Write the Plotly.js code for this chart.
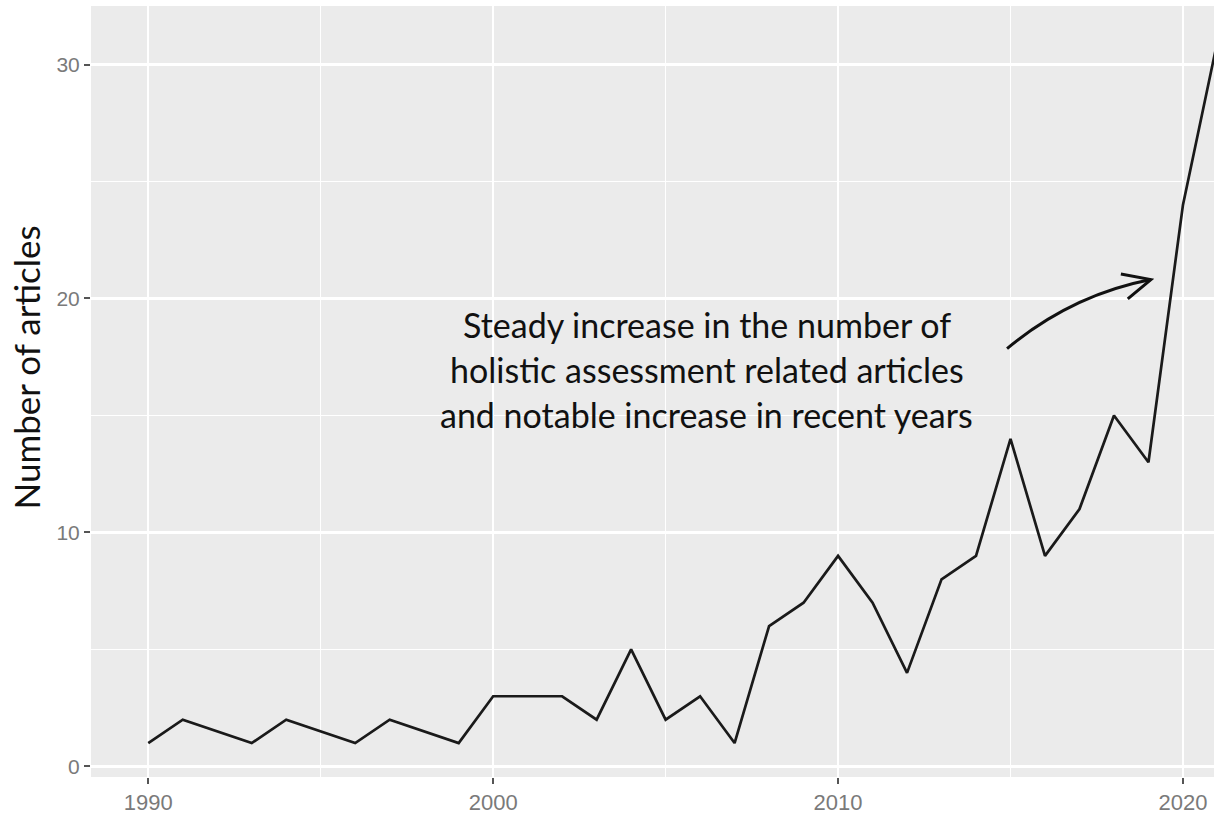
<!DOCTYPE html>
<html>
<head>
<meta charset="utf-8">
<script src="https://cdn.plot.ly/plotly-3.0.1.min.js"></script>
<style>html,body{margin:0;padding:0;background:#fff;}#chart{width:1214px;height:816px;}</style>
</head>
<body>
<div id="chart"></div>
<script>
// Data (years with no point are absent)
const years = [1990, 1991, 1993, 1994, 1996, 1997, 1999, 2000, 2001, 2002, 2003, 2004, 2005, 2006, 2007, 2008, 2009, 2010, 2011, 2012, 2013, 2014, 2015, 2016, 2017, 2018, 2019, 2020, 2021];
const articles = [1, 2, 1, 2, 1, 2, 1, 3, 3, 3, 2, 5, 2, 3, 1, 6, 7, 9, 7, 4, 8, 9, 14, 9, 11, 15, 13, 24, 31];
const xTicks = [1990, 2000, 2010, 2020];
const yTicks = [0, 10, 20, 30];
const yTitle = "Number of articles";
const noteLines = [
  "Steady increase in the number of",
  "holistic assessment related articles",
  "and notable increase in recent years"
];
const noteX = 2006.2;
const noteY = [18.9, 16.97, 15.04];
// curved arrow: start, control, tip, arrowhead arms (data units)
const arrowStart = [2014.9, 17.86];
const arrowCtrl = [2016.77, 20.15];
const arrowTip = [2019.07, 20.81];
const arrowArmA = [2018.2, 21.05];
const arrowArmB = [2018.4, 19.98];

const trace = {
  x: years, y: articles, type: 'scatter', mode: 'lines',
  line: {color: '#1a1a1a', width: 2.7},
  hoverinfo: 'x+y'
};

const p = a => a[0] + ',' + a[1];
const shapes = [
  {type: 'path', xref: 'x', yref: 'y',
   path: 'M' + p(arrowStart) + ' Q' + p(arrowCtrl) + ' ' + p(arrowTip),
   line: {color: '#111', width: 3}},
  {type: 'path', xref: 'x', yref: 'y',
   path: 'M' + p(arrowArmA) + ' L' + p(arrowTip) + ' L' + p(arrowArmB),
   line: {color: '#111', width: 3}}
];

const annotations = noteLines.map((t, i) => ({
  x: noteX, y: noteY[i], xref: 'x', yref: 'y', text: t, showarrow: false,
  xanchor: 'center', yanchor: 'middle',
  font: {family: 'Lato, sans-serif', size: 34, color: '#111'}
}));
// y-axis title placed as a rotated annotation
annotations.push({
  x: -0.058, y: 0.531, xref: 'paper', yref: 'paper', text: yTitle, showarrow: false,
  textangle: -90, xanchor: 'center', yanchor: 'middle',
  font: {family: 'Lato, sans-serif', size: 35, color: '#111'}
});

const layout = {
  width: 1214, height: 816,
  margin: {l: 91, r: 0, t: 6, b: 39},
  paper_bgcolor: '#ffffff', plot_bgcolor: '#ebebeb',
  showlegend: false,
  xaxis: {
    range: [1988.34, 2020.9], tickvals: xTicks, ticktext: xTicks.map(String),
    showgrid: true, gridcolor: '#ffffff', gridwidth: 2.4, zeroline: false,
    minor: {dtick: 5, tick0: 1990, showgrid: true, gridcolor: '#ffffff', gridwidth: 1.2, ticks: ''},
    ticks: 'outside', ticklen: 6, tickwidth: 2, tickcolor: '#555',
    tickfont: {family: 'Liberation Sans, Arial, sans-serif', size: 22, color: '#7a7a7a'},
    showline: false, fixedrange: true
  },
  yaxis: {
    range: [-0.45, 32.5], tickvals: yTicks, ticktext: yTicks.map(String),
    showgrid: true, gridcolor: '#ffffff', gridwidth: 2.4, zeroline: false,
    minor: {dtick: 5, tick0: 0, showgrid: true, gridcolor: '#ffffff', gridwidth: 1.2, ticks: ''},
    ticks: 'outside', ticklen: 6, tickwidth: 2, tickcolor: '#555',
    tickfont: {family: 'Liberation Sans, Arial, sans-serif', size: 21, color: '#7a7a7a'},
    showline: false, fixedrange: true
  },
  shapes: shapes,
  annotations: annotations
};

Plotly.newPlot('chart', [trace], layout, {displayModeBar: false, staticPlot: true});
</script>
</body>
</html>
